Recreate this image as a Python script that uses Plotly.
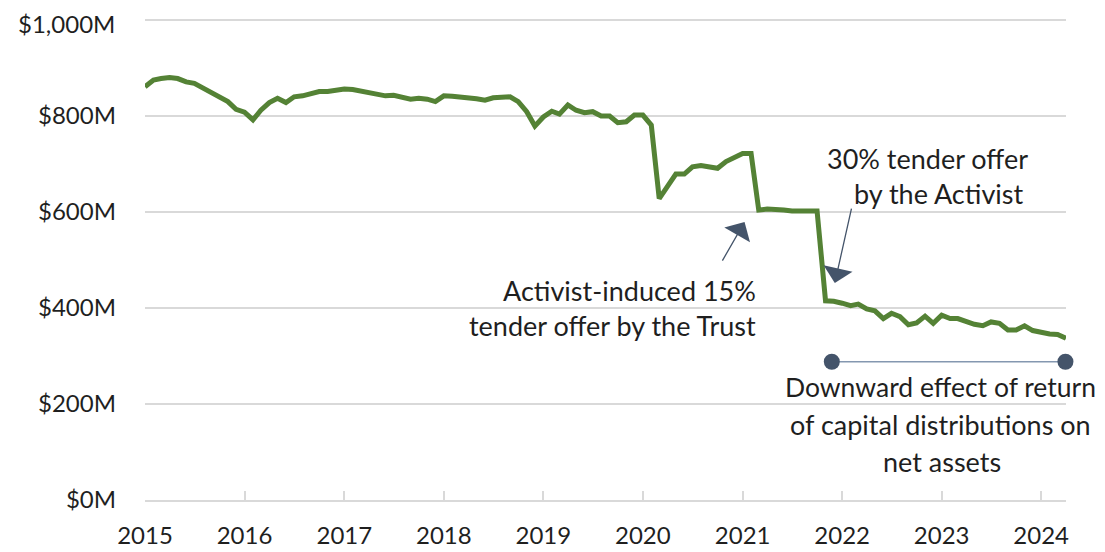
import pandas as pd
import plotly.graph_objects as go

# ---- data ----
start_month = "2015-01-01"
net_assets = [
    861, 875, 878, 880, 878, 871, 868, 858, 849, 840, 830, 814,   # 2015
    808, 792, 812, 828, 837, 828, 840, 842, 846, 851, 851, 853,   # 2016
    856, 855, 852, 849, 846, 842, 843, 838, 835, 837, 835, 830,   # 2017
    842, 841, 840, 838, 836, 833, 838, 839, 840, 830, 809, 779,   # 2018
    798, 810, 804, 823, 812, 807, 809, 800, 800, 786, 788, 802,   # 2019
    802, 781, 628, 654, 679, 679, 694, 697, 694, 691, 705, 714,   # 2020
    722, 722, 604, 606, 606, 604, 602, 602, 602, 602, 415, 414,   # 2021
    410, 405, 408, 398, 394, 378, 389, 382, 365, 369, 383, 368,   # 2022
    385, 378, 378, 371, 366, 363, 371, 368, 354, 354, 363, 353,   # 2023
    349, 346, 345, 337,                                           # 2024
]
dates = pd.date_range(start_month, periods=len(net_assets), freq="MS")

year_ticks = [str(y) for y in range(2015, 2025)]
y_ticks = [0, 200, 400, 600, 800, 1000]
y_tick_labels = ["$0M", "$200M", "$400M", "$600M", "$800M", "$1,000M"]

bracket_dates = ["2021-11-24", "2024-03-30"]
bracket_value = [288, 288]

# ---- styling ----
OFF = 8                      # page body margin of the html page
W, H = 1105 - OFF, 552 - OFF
HEAD = 3                     # px of headroom above the $1,000M gridline
L, R, T, B = 145 - OFF, 39, 20 - OFF - HEAD, 52
FONT = "Lato"
TXT = "#1f1f1f"
GREEN = "#548235"
SLATE = "#44546a"
GRID = "#d9d9d9"
Y_TOP = 1000 * (480 + HEAD) / 480


def px_x(px):
    return (px - OFF - L) / (W - L - R)


def px_y(py):
    return (H - B - (py - OFF)) / (H - T - B)


fig = go.Figure()
fig.add_trace(go.Scatter(
    x=dates, y=net_assets, mode="lines",
    line=dict(color=GREEN, width=5, shape="linear"),
    hoverinfo="x+y", showlegend=False,
))
fig.add_trace(go.Scatter(
    x=bracket_dates, y=bracket_value, mode="lines+markers",
    line=dict(color="#8497b0", width=1.5),
    marker=dict(color=SLATE, size=16),
    showlegend=False, cliponaxis=False,
))

texts = [
    ("30% tender offer", 927, 158, 27),
    ("by the Activist", 938, 193, 27),
    ("Activist-induced 15%", 629, 290, 27),
    ("tender offer by the Trust", 612, 325, 27),
    ("Downward effect of return", 940, 387, 26.5),
    ("of capital distributions on", 940, 424, 27),
    ("net assets", 942, 461, 27),
]
for t, cx, cy, fs in texts:
    fig.add_annotation(
        text=t, xref="paper", yref="paper", x=px_x(cx), y=px_y(cy),
        xanchor="center", yanchor="middle", showarrow=False,
        font=dict(family=FONT, size=fs, color=TXT),
    )

# top tick label drawn as an annotation so it stays inside the page
fig.add_annotation(
    text=y_tick_labels[-1], xref="paper", yref="paper",
    x=px_x(116), y=px_y(OFF), xanchor="right", yanchor="top",
    showarrow=False, borderpad=0,
    font=dict(family=FONT, size=24, color=TXT),
)
axis_tick_text = y_tick_labels[:-1] + [""]

# arrows (head in data coordinates, tail as pixel offset)
arrows = [
    ("2021-12-05", 452, 17, -76),
    ("2021-01-08", 579, -23, 40),
]
for ax_date, val, dx, dy in arrows:
    fig.add_annotation(
        x=ax_date, y=val, xref="x", yref="y", ax=dx, ay=dy,
        text="", showarrow=True, arrowhead=1, arrowsize=3.8,
        arrowwidth=1.3, arrowcolor=SLATE, standoff=0,
    )

fig.update_layout(
    width=W, height=H,
    margin=dict(l=L, r=R, t=T, b=B, autoexpand=False),
    paper_bgcolor="white", plot_bgcolor="white",
    font=dict(family=FONT, size=24, color=TXT),
)
fig.update_xaxes(
    type="date", range=["2015-01-01", "2024-04-01"],
    tickvals=[f"{y}-01-01" for y in year_ticks], ticktext=year_ticks,
    showgrid=False, showline=True, linecolor=GRID, linewidth=2,
    ticks="inside", ticklen=9, tickcolor=GRID, tickwidth=1.5,
    ticklabelstandoff=13, zeroline=False,
    tickfont=dict(family=FONT, size=24, color=TXT),
)
fig.update_yaxes(
    range=[0, Y_TOP], tickvals=y_ticks, ticktext=axis_tick_text,
    showgrid=True, gridcolor=GRID, gridwidth=2,
    showline=False, zeroline=False, ticks="",
    ticklabelstandoff=28, ticklabeloverflow="allow",
    tickfont=dict(family=FONT, size=24, color=TXT),
)

fig.write_html("out.html")
